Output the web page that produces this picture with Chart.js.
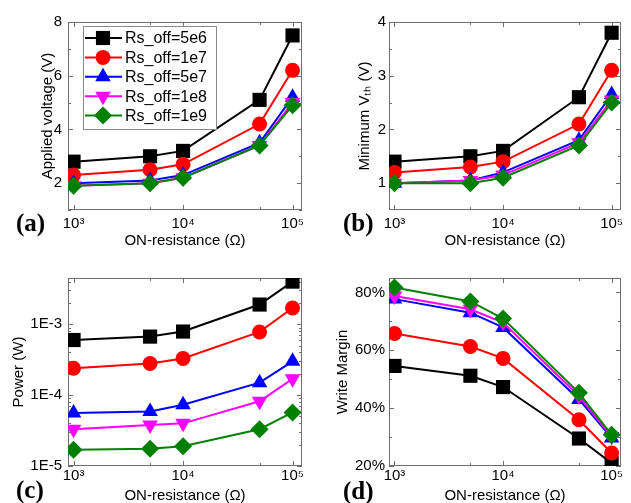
<!DOCTYPE html>
<html>
<head>
<meta charset="utf-8">
<script src="https://cdn.jsdelivr.net/npm/chart.js@4.4.0/dist/chart.umd.min.js"></script>
<style>
html, body { margin: 0; padding: 0; background: #fff; }
#wrap { position: relative; width: 631px; height: 503px; overflow: hidden; }
canvas { position: absolute; }
</style>
</head>
<body>
<div id="wrap">
  <canvas id="chartA" width="315" height="250" style="left:0;top:0"></canvas>
  <canvas id="chartB" width="316" height="250" style="left:315px;top:0"></canvas>
  <canvas id="chartC" width="315" height="253" style="left:0;top:250px"></canvas>
  <canvas id="chartD" width="316" height="253" style="left:315px;top:250px"></canvas>
</div>
<script>
// data
const resistance = [1e3, 5e3, 1e4, 5e4, 1e5];
const seriesNames = ['Rs_off=5e6', 'Rs_off=1e7', 'Rs_off=5e7', 'Rs_off=1e8', 'Rs_off=1e9'];

const appliedVoltage = [
    [2.8, 3.0, 3.2, 5.1, 7.5],
    [2.3, 2.5, 2.7, 4.2, 6.2],
    [2.0, 2.1, 2.3, 3.5, 5.2],
    [1.9, 2.0, 2.2, 3.4, 5.0],
    [1.9, 2.0, 2.2, 3.4, 4.9]
];
const minimumVth = [
    [1.4, 1.5, 1.6, 2.6, 3.8],
    [1.2, 1.3, 1.4, 2.1, 3.1],
    [1.0, 1.05, 1.2, 1.8, 2.65],
    [1.0, 1.05, 1.15, 1.75, 2.55],
    [1.0, 1.0, 1.1, 1.7, 2.5]
];
const power = [
    [6.0e-4, 6.7e-4, 7.9e-4, 1.9e-3, 4.0e-3],
    [2.4e-4, 2.8e-4, 3.3e-4, 7.8e-4, 1.7e-3],
    [5.6e-5, 5.9e-5, 7.3e-5, 1.5e-4, 3.0e-4],
    [3.3e-5, 3.8e-5, 4.0e-5, 8.2e-5, 1.7e-4],
    [1.7e-5, 1.75e-5, 1.9e-5, 3.3e-5, 5.7e-5]
];
const writeMargin = [
    [54.6, 51.2, 47.3, 29.5, 21.0],
    [65.8, 61.3, 57.2, 36.0, 24.5],
    [77.7, 73.0, 67.9, 43.0, 29.7],
    [78.8, 74.2, 69.6, 44.2, 30.2],
    [81.7, 76.9, 71.0, 45.3, 30.8]
];

const xTickLabels = { 3: '10³', 4: '10⁴', 5: '10⁵' };
const powerTickLabels = { '-5': '1E-5', '-4': '1E-4', '-3': '1E-3' };
const marginTicks = [20, 30, 40, 50, 60, 70, 80];

// styles
const colors = ['#000000', '#ff0000', '#0000ff', '#ff00ff', '#008000'];
const markers = ['rect', 'circle', 'triangle', 'triangle', 'rectRot'];
const markerRotation = [0, 0, 0, 180, 0];
const markerRadius = [10, 7.5, 9, 9, 9];
const FONT = "'Liberation Sans', Arial, sans-serif";

function makeDatasets(values) {
    return values.map((row, i) => ({
        label: seriesNames[i],
        data: row.map((v, j) => ({ x: resistance[j], y: v })),
        borderColor: colors[i],
        backgroundColor: colors[i],
        borderWidth: 2,
        pointStyle: markers[i],
        rotation: markerRotation[i],
        pointRadius: markerRadius[i],
        pointBorderWidth: 0,
        order: 5 - i
    }));
}

function decade(v) {
    const e = Math.log10(v);
    return Math.abs(e - Math.round(e)) < 1e-6 ? Math.round(e) : null;
}

function xScale(tickPad, titlePad, height) {
    return {
        type: 'logarithmic',
        min: 890,
        max: 122000,
        grid: { display: false, drawTicks: false },
        border: { display: false },
        ticks: {
            autoSkip: false, maxRotation: 0, padding: tickPad, color: '#000',
            font: { family: FONT, size: 15 },
            callback: v => xTickLabels[decade(v)] || ''
        },
        title: {
            display: true, text: 'ON-resistance (Ω)', color: '#000',
            font: { family: FONT, size: 15 }, padding: { top: 0, bottom: titlePad }
        },
        afterFit: s => { s.height = height; s.paddingLeft = 0; s.paddingRight = 0; }
    };
}

function yScale(opts) {
    const scale = {
        type: opts.type || 'linear',
        min: opts.min,
        max: opts.max,
        grid: { display: false, drawTicks: false },
        border: { display: false },
        ticks: {
            autoSkip: false, padding: opts.tickPad, color: '#000', stepSize: opts.step,
            font: { family: FONT, size: 15 },
            callback: opts.label
        },
        title: {
            display: true, text: opts.title, color: '#000',
            font: { family: FONT, size: 15 }, padding: { top: opts.titlePad, bottom: 0 }
        },
        afterFit: s => { s.width = opts.width; s.paddingTop = 0; s.paddingBottom = 0; }
    };
    if (opts.values) {
        scale.afterBuildTicks = s => { s.ticks = opts.values.map(v => ({ value: v })); };
    }
    return scale;
}

// box round the plot area with small inward ticks
const framePlugin = {
    id: 'frame',
    beforeDatasetsDraw(chart, args, opts) {
        const { ctx, chartArea: a, scales: { x, y } } = chart;
        ctx.save();
        ctx.strokeStyle = '#6e6e6e';
        ctx.lineWidth = 1;
        ctx.strokeRect(Math.round(a.left) + 0.5, Math.round(a.top) + 0.5,
            Math.round(a.width) - 1, Math.round(a.height) - 1);
        ctx.beginPath();
        resistance.forEach(v => {
            const px = Math.round(x.getPixelForValue(v)) + 0.5;
            const len = decade(v) !== null ? 5 : 3;
            ctx.moveTo(px, a.bottom); ctx.lineTo(px, a.bottom - len);
            ctx.moveTo(px, a.top); ctx.lineTo(px, a.top + len);
        });
        (opts.yMajor || []).forEach(v => {
            const py = Math.round(y.getPixelForValue(v)) + 0.5;
            ctx.moveTo(a.left, py); ctx.lineTo(a.left + 5, py);
            ctx.moveTo(a.right, py); ctx.lineTo(a.right - 5, py);
        });
        (opts.yMinor || []).forEach(v => {
            const py = Math.round(y.getPixelForValue(v)) + 0.5;
            ctx.moveTo(a.left, py); ctx.lineTo(a.left + 3, py);
            ctx.moveTo(a.right, py); ctx.lineTo(a.right - 3, py);
        });
        ctx.stroke();
        ctx.restore();
    }
};

// (a), (b) ... panel tags
const tagPlugin = {
    id: 'panelTag',
    afterDraw(chart, args, opts) {
        if (!opts.text) return;
        const ctx = chart.ctx;
        ctx.save();
        ctx.fillStyle = '#000';
        ctx.font = "bold 25px 'Liberation Serif', 'Times New Roman', serif";
        ctx.textAlign = 'left';
        ctx.textBaseline = 'middle';
        ctx.fillText(opts.text, opts.x, opts.y);
        ctx.restore();
    }
};

// legend with line + marker, inside panel (a)
const lineLegendPlugin = {
    id: 'lineLegend',
    afterDraw(chart, args, opts) {
        if (!opts.show) return;
        const ctx = chart.ctx;
        ctx.save();
        ctx.fillStyle = '#fff';
        ctx.fillRect(opts.x, opts.y, opts.w, opts.h);
        ctx.strokeStyle = '#8a8a8a';
        ctx.lineWidth = 1;
        ctx.strokeRect(opts.x + 0.5, opts.y + 0.5, opts.w, opts.h);
        chart.data.datasets.forEach((ds, i) => {
            const cy = opts.y + opts.first + i * opts.gap;
            ctx.strokeStyle = ds.borderColor;
            ctx.lineWidth = 2;
            ctx.beginPath();
            ctx.moveTo(opts.x + 2, cy);
            ctx.lineTo(opts.x + 39, cy);
            ctx.stroke();
            ctx.fillStyle = ds.backgroundColor;
            Chart.helpers.drawPoint(ctx, {
                pointStyle: ds.pointStyle, rotation: ds.rotation,
                radius: ds.pointRadius, borderWidth: 0
            }, opts.x + 20, cy);
            ctx.fillStyle = '#000';
            ctx.font = '16px ' + FONT;
            ctx.textAlign = 'left';
            ctx.textBaseline = 'middle';
            ctx.fillText(ds.label, opts.x + 42, cy + 1);
        });
        ctx.restore();
    }
};

Chart.register(framePlugin, tagPlugin, lineLegendPlugin);

function makeChart(id, values, cfg) {
    return new Chart(document.getElementById(id), {
        type: 'line',
        data: { datasets: makeDatasets(values) },
        options: {
            responsive: false,
            animation: false,
            events: [],
            layout: { padding: cfg.padding },
            plugins: {
                legend: { display: false },
                tooltip: { enabled: false },
                frame: cfg.frame,
                panelTag: cfg.tag,
                lineLegend: cfg.legend || { show: false }
            },
            scales: { x: cfg.x, y: cfg.y }
        }
    });
}

makeChart('chartA', appliedVoltage, {
    padding: { left: 0, top: 22, right: 13, bottom: 0 },
    x: xScale(5, 0, 40),
    y: yScale({ min: 1, max: 8, step: 1, width: 68, tickPad: 6, titlePad: 39,
        title: 'Applied voltage (V)', label: v => (v % 2 === 0 ? String(v) : '') }),
    frame: { yMajor: [2, 4, 6, 8], yMinor: [1, 3, 5, 7] },
    tag: { text: '(a)', x: 16, y: 225 },
    legend: { show: true, x: 83, y: 26, w: 133, h: 103, first: 12, gap: 19.4 }
});

makeChart('chartB', minimumVth, {
    padding: { left: 0, top: 22, right: 9, bottom: 0 },
    x: xScale(5, 0, 40),
    y: yScale({ min: 0.5, max: 4, step: 0.5, width: 74, tickPad: 3, titlePad: 41,
        title: 'Minimum Vₜₕ (V)', label: v => (Number.isInteger(v) ? String(v) : '') }),
    frame: { yMajor: [1, 2, 3, 4], yMinor: [1.5, 2.5, 3.5] },
    tag: { text: '(b)', x: 28, y: 225 }
});

const powerMinor = [];
[-5, -4, -3].forEach(e => { for (let k = 2; k <= 9; k++) { const v = k * Math.pow(10, e); if (v < 4.5e-3) powerMinor.push(v); } });
makeChart('chartC', power, {
    padding: { left: 0, top: 28, right: 13, bottom: 0 },
    x: xScale(1, -2, 37),
    y: yScale({ type: 'logarithmic', min: 1e-5, max: 4.5e-3, width: 68, tickPad: 6, titlePad: 10,
        title: 'Power (W)', label: v => powerTickLabels[decade(v)] || '' }),
    frame: { yMajor: [1e-5, 1e-4, 1e-3], yMinor: powerMinor },
    tag: { text: '(c)', x: 16, y: 242 }
});

makeChart('chartD', writeMargin, {
    padding: { left: 0, top: 28, right: 9, bottom: 0 },
    x: xScale(1, -2, 37),
    y: yScale({ min: 20, max: 85, width: 74, tickPad: 4, titlePad: 19, values: marginTicks,
        title: 'Write Margin', label: v => (v % 20 === 0 ? v + '%' : '') }),
    frame: { yMajor: [20, 40, 60, 80], yMinor: [30, 50, 70] },
    tag: { text: '(d)', x: 28, y: 243 }
});
</script>
</body>
</html>
